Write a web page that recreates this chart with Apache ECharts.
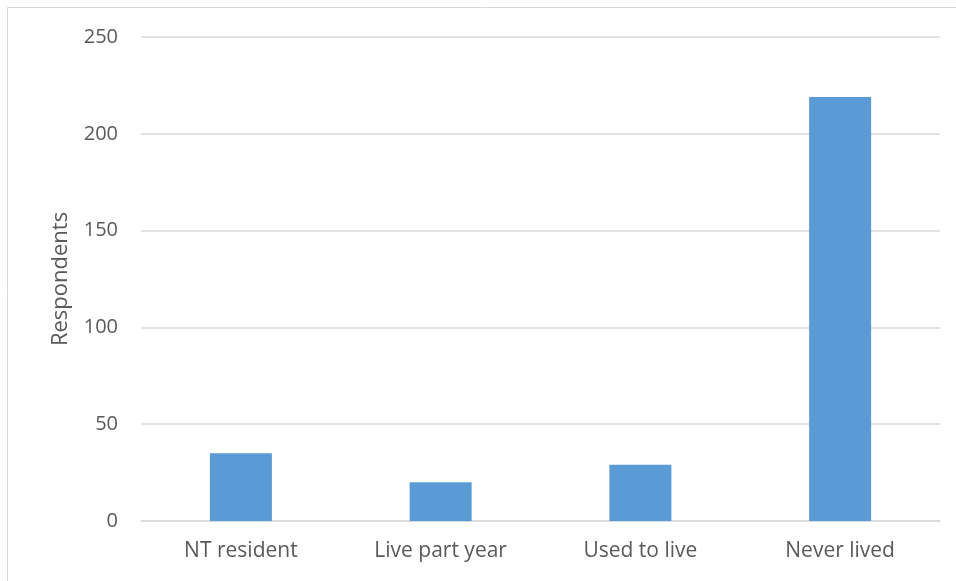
<!DOCTYPE html>
<html>
<head>
<meta charset="utf-8">
<script src="https://cdn.jsdelivr.net/npm/echarts@6/dist/echarts.min.js"></script>
<style>
  html, body { margin: 0; padding: 0; background: #fff; }
  #chart { width: 956px; height: 581px; }
</style>
</head>
<body>
<div id="chart"></div>
<script>
// Where respondents live relative to the NT
const categories = ['NT resident', 'Live part year', 'Used to live', 'Never lived'];
const respondents = [35, 20, 29, 219];
const yTicks = { min: 0, max: 250, interval: 50 };
const yAxisTitle = 'Respondents';

const textColor = '#595959';
const gridColor = '#D9D9D9';
const barColor = '#5B9BD5';
const fontFamily = '"Open Sans", "Liberation Sans", sans-serif';

const chart = echarts.init(document.getElementById('chart'), null, { renderer: 'canvas' });

chart.setOption({
  animation: false,
  backgroundColor: '#ffffff',
  graphic: [{
    type: 'rect',
    silent: true,
    z: -10,
    shape: { x: 7.5, y: 7.5, width: 1200, height: 1200 },
    style: { fill: 'none', stroke: gridColor, lineWidth: 1 }
  }],
  grid: { left: 141, right: 16, top: 37, bottom: 60, containLabel: false },
  xAxis: {
    type: 'category',
    data: categories,
    axisTick: { show: false },
    axisLine: { show: true, lineStyle: { color: gridColor, width: 1.5 } },
    axisLabel: { color: textColor, fontSize: 21, fontFamily: fontFamily, margin: 20 }
  },
  yAxis: {
    type: 'value',
    min: yTicks.min,
    max: yTicks.max,
    interval: yTicks.interval,
    name: yAxisTitle,
    nameLocation: 'middle',
    nameGap: 69,
    nameTextStyle: { color: textColor, fontSize: 22, fontFamily: fontFamily },
    axisLine: { show: false },
    axisTick: { show: false },
    axisLabel: { color: textColor, fontSize: 20, fontFamily: fontFamily, margin: 23 },
    splitLine: { lineStyle: { color: gridColor, width: 1.5 } }
  },
  series: [{
    type: 'bar',
    data: respondents,
    barWidth: 62,
    itemStyle: { color: barColor }
  }]
});
</script>
</body>
</html>
